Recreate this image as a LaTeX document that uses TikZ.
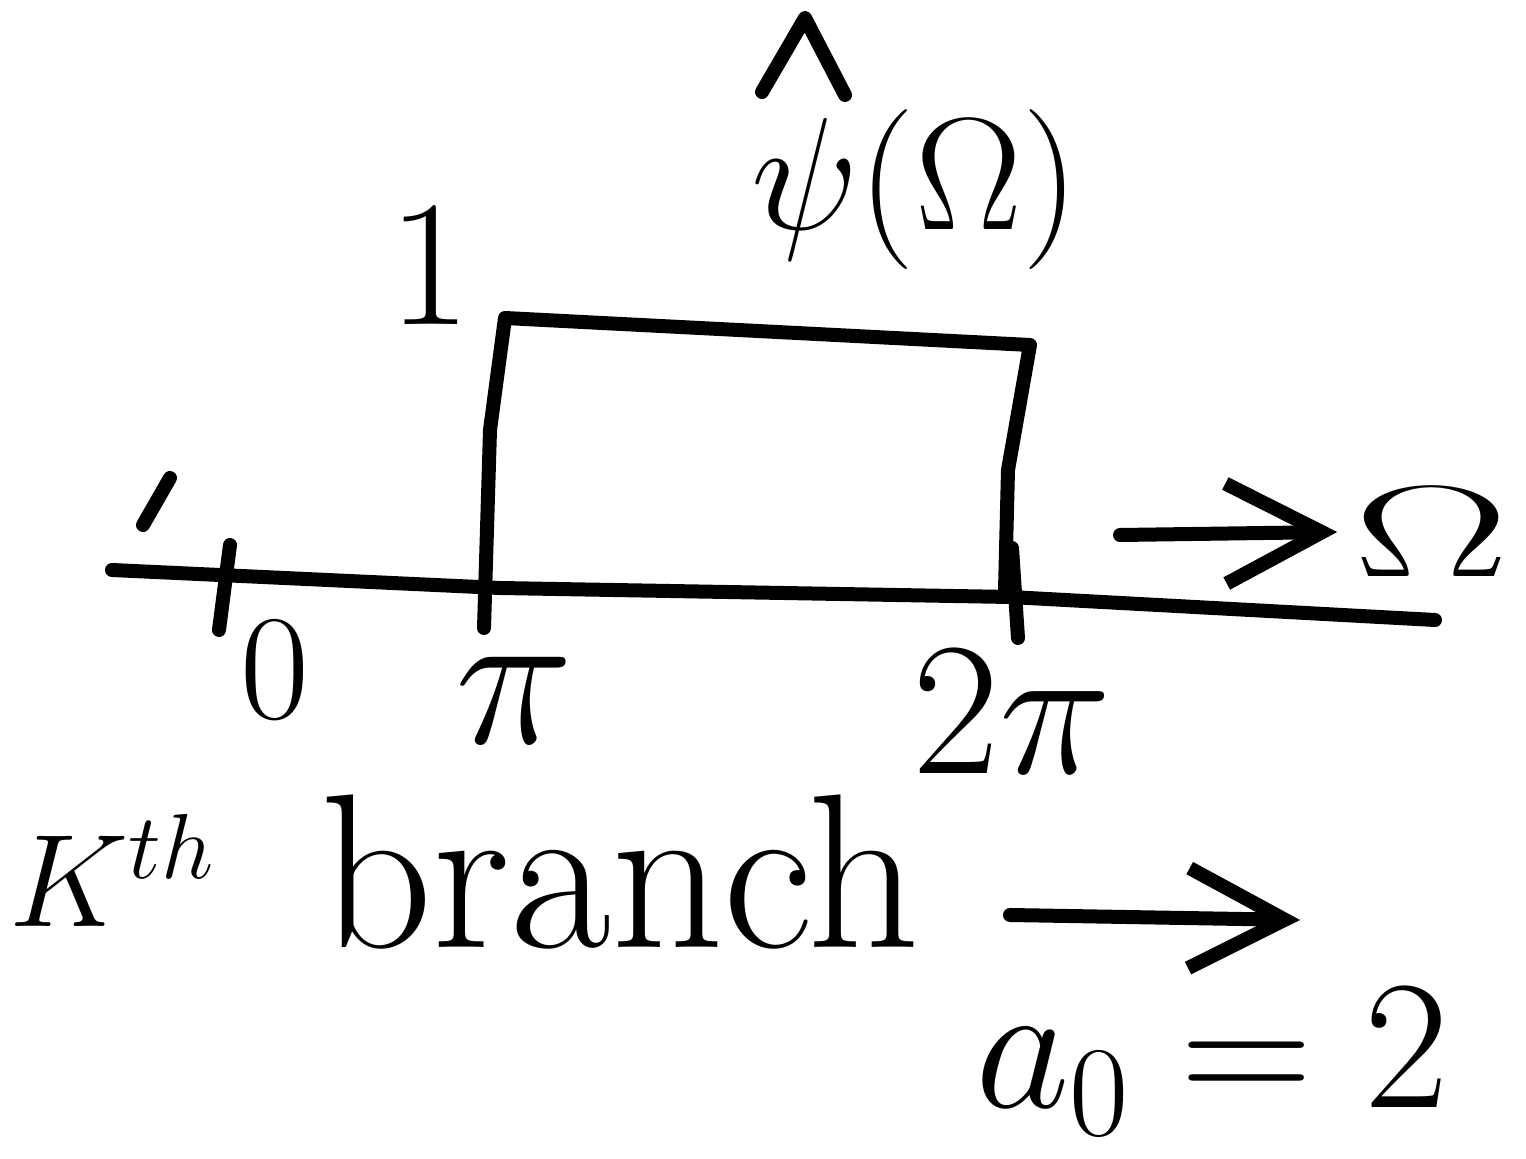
\RequirePackage{fix-cm}
\documentclass[tikz,border=0pt]{standalone}
\usepackage{fontspec}
\usetikzlibrary{arrows.meta}
\tikzset{
  ink/.style={line width=7pt, line cap=round, line join=round, black},
  lbl/.style={inner sep=0pt, text=black},
  barb/.style={ink, -{Straight Barb[length=48pt, width=50pt, line width=7pt]}},
}
\begin{document}
\begin{tikzpicture}[x=0.5pt, y=-0.5pt]
\useasboundingbox (0,0) rectangle (1526,1159);
\fill[white] (0,0) rectangle (1526,1159);
% labels
\node[lbl, font=\fontsize{80}{85}\selectfont] (psi) at (915,190) {$\psi(\Omega)$};
\node[lbl, font=\fontsize{90}{95}\selectfont] (one) at (430,265) {1};
\node[lbl, font=\fontsize{75}{80}\selectfont] (zero) at (275,670) {$0$};
\node[lbl, font=\fontsize{100}{105}\selectfont] (pi) at (515,700) {$\pi$};
\node[lbl, font=\fontsize{95}{100}\selectfont] (twopi) at (1012,712) {$2\pi$};
\node[lbl, font=\fontsize{65}{70}\selectfont, xscale=1.8] (om) at (1432,532) {$\Omega$};
\node[lbl, font=\fontsize{66}{72}\selectfont] (kth) at (112,870) {$K^{th}$};
\node[lbl, font=\fontsize{110}{115}\selectfont] (br) at (620,872) {branch};
\node[lbl, font=\fontsize{92}{96}\selectfont] (a0) at (1212,1062) {$a_0=2$};
% hat over psi
\draw[ink] (762,92) -- (805,18) -- (845,95);
% axis
\coordinate (axL) at (112,570);
\coordinate (axR) at (1435,620);
\draw[ink] (axL) -- (500,588) -- (1010,597) -- (axR);
% axis arrow to Omega
\coordinate (oa) at (1120,535);
\draw[barb] (oa) -- ([xshift=-8pt]om.west);
% ticks
\draw[ink] (230,545) -- (219,630);
\draw[ink] (1012,548) -- (1018,638);
\draw[ink] (143,525) -- (170,478);
% rectangle
\coordinate (r1) at (484,628);
\coordinate (r2) at (505,318);
\coordinate (r3) at (1030,345);
\coordinate (r4) at (1005,590);
\draw[ink] (r1) -- (490,430) -- (r2) -- (r3) -- (1008,470) -- (r4);
% bottom arrow
\coordinate (ba) at (1010,915);
\coordinate (bb) at (1300,920);
\draw[barb] (ba) -- (bb);
\end{tikzpicture}
\end{document}
